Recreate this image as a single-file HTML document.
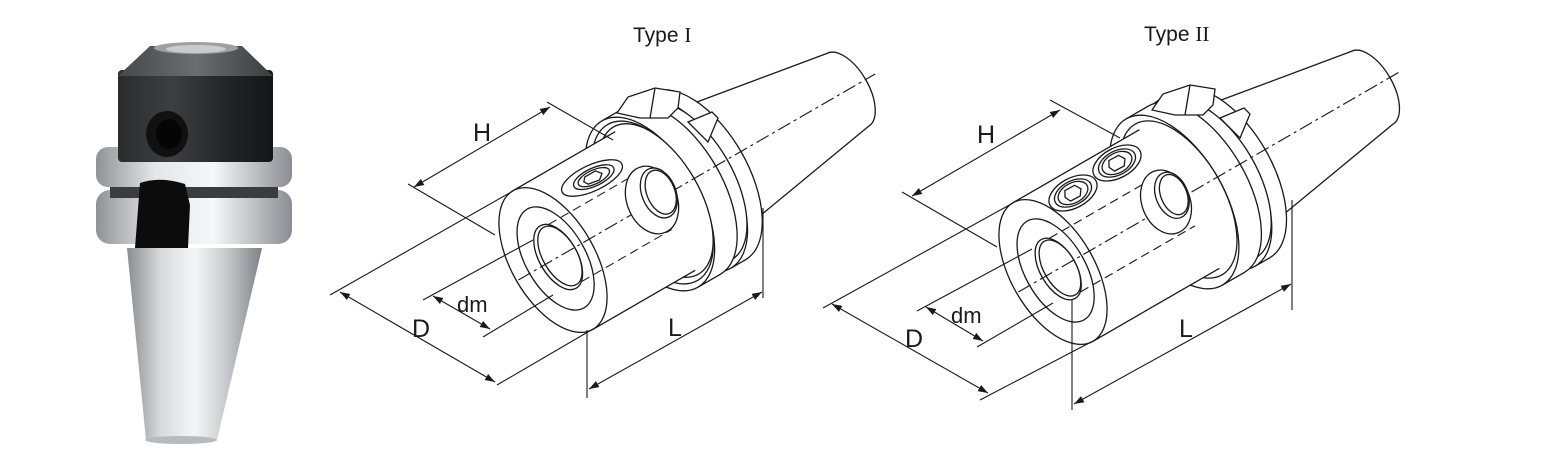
<!DOCTYPE html>
<html><head><meta charset="utf-8"><style>
html,body{margin:0;padding:0;background:#fff;}
svg{display:block;}
.s{fill:#fff;stroke:#1a1a1a;stroke-width:1.3;}
.f{fill:#fff;stroke:none;}
.l{stroke:#1a1a1a;stroke-width:1.3;fill:none;}
.d{stroke:#1a1a1a;stroke-width:1.1;fill:none;}
.dash{stroke:#1a1a1a;stroke-width:1.1;fill:none;stroke-dasharray:9 5;}
.cl{stroke:#1a1a1a;stroke-width:1.1;fill:none;stroke-dasharray:14 4 3 4;}
text{font-family:"Liberation Sans",sans-serif;fill:#1a1a1a;}
</style></head><body>
<svg width="1544" height="454" viewBox="0 0 1544 454" xmlns="http://www.w3.org/2000/svg">
<defs>
<marker id="ar" viewBox="0 0 10 10" refX="10" refY="5" markerWidth="10" markerHeight="10" markerUnits="userSpaceOnUse" orient="auto-start-reverse"><path d="M0,1.5 L10,5 L0,8.5 z" fill="#1a1a1a"/></marker>
<linearGradient id="cone" x1="0" x2="1" y1="0" y2="0">
<stop offset="0" stop-color="#8a8d90"/><stop offset="0.25" stop-color="#d8dadc"/><stop offset="0.5" stop-color="#f4f5f6"/><stop offset="0.75" stop-color="#c4c7ca"/><stop offset="1" stop-color="#7d8185"/></linearGradient>
<linearGradient id="ring" x1="0" x2="1" y1="0" y2="0">
<stop offset="0" stop-color="#8f9296"/><stop offset="0.3" stop-color="#e4e6e8"/><stop offset="0.6" stop-color="#f6f7f8"/><stop offset="1" stop-color="#8a8d91"/></linearGradient>
<linearGradient id="dark" x1="0" x2="1" y1="0" y2="0">
<stop offset="0" stop-color="#2a2c2e"/><stop offset="0.35" stop-color="#3c3f41"/><stop offset="0.7" stop-color="#222425"/><stop offset="1" stop-color="#151617"/></linearGradient>
<linearGradient id="top" x1="0" x2="1" y1="0" y2="0">
<stop offset="0" stop-color="#45484a"/><stop offset="0.5" stop-color="#6a6e70"/><stop offset="1" stop-color="#3a3c3e"/></linearGradient>
</defs>

<!-- PHOTO -->
<g>
<polygon points="127,248 262,248 217,440 146,440" fill="url(#cone)"/>
<ellipse cx="181" cy="440" rx="36" ry="4" fill="#b8bbbe"/>
<rect x="96" y="190" width="196" height="54" rx="14" fill="url(#ring)"/>
<rect x="110" y="184" width="168" height="14" fill="#3a3c3e"/>
<rect x="96" y="147" width="196" height="40" rx="12" fill="url(#ring)"/>
<rect x="118" y="70" width="155" height="92" rx="4" fill="url(#dark)"/>
<polygon points="150,46 242,46 273,76 118,76" fill="url(#top)"/>
<ellipse cx="196" cy="48" rx="42" ry="6" fill="#9da1a4"/>
<ellipse cx="196" cy="49" rx="30" ry="4" fill="#c9cbcd"/>
<ellipse cx="167" cy="134" rx="21" ry="23" fill="#111"/>
<ellipse cx="169" cy="134" rx="13" ry="15" fill="#050505"/>
<path d="M140,183 Q160,176 185,184 L190,205 L188,248 L135,248 Z" fill="#0c0c0c"/>
</g>

<!-- TYPE I -->
<text x="633" y="42" font-size="21">Type <tspan font-family="Liberation Serif,serif">I</tspan></text>
<g transform="translate(553,260) rotate(-30)">
  <ellipse class="s" cx="340" cy="0" rx="21" ry="42"/>
  <polygon class="f" points="185,-68 340,-42 340,42 185,68"/>
  <line class="l" x1="185" y1="-68" x2="340" y2="-42"/>
  <line class="l" x1="185" y1="68" x2="340" y2="42"/>
  <ellipse class="s" cx="167" cy="0" rx="50" ry="96"/>
  <rect class="f" x="150" y="-96" width="17" height="192"/>
  <line class="l" x1="150" y1="-96" x2="167" y2="-96"/><line class="l" x1="150" y1="96" x2="167" y2="96"/>
  <ellipse class="s" cx="150" cy="0" rx="50" ry="96"/>
  <ellipse class="s" cx="155" cy="0" rx="46" ry="89"/>
  <rect class="f" x="138" y="-86" width="12" height="172"/>
  <ellipse class="s" cx="138" cy="0" rx="50" ry="96"/>
  <rect class="f" x="112" y="-96" width="26" height="192"/>
  <line class="l" x1="112" y1="-96" x2="138" y2="-96"/><line class="l" x1="112" y1="96" x2="138" y2="96"/>
  <ellipse class="s" cx="112" cy="0" rx="50" ry="96"/>
  <ellipse class="s" cx="115" cy="0" rx="47" ry="90"/>
  <ellipse class="s" cx="119" cy="0" rx="44" ry="85"/>
  <rect class="f" x="0" y="-80" width="118" height="160"/>
  <line class="l" x1="0" y1="-80" x2="118" y2="-80"/><line class="l" x1="0" y1="80" x2="118" y2="80"/>
  <ellipse class="s" cx="0" cy="0" rx="42" ry="80"/>
  <ellipse class="s" cx="3" cy="0" rx="30" ry="57"/>
  <ellipse class="s" cx="6" cy="0" rx="19" ry="36"/>
  <ellipse class="s" cx="8" cy="0" rx="17" ry="33"/>
  <line class="dash" x1="14" y1="-33" x2="118" y2="-33"/>
  <line class="dash" x1="14" y1="33" x2="118" y2="33"/>
  <line class="cl" x1="-40" y1="0" x2="372" y2="0"/>
</g>
<polygon class="s" points="617,113 628,97 655,88 680,92 678,108 668,118 640,118"/>
<line class="l" x1="655" y1="88" x2="650" y2="118"/>
<polygon class="s" points="688,122 712,112 718,118 708,142"/>
<g transform="translate(592,178) rotate(-25)">
  <ellipse class="s" cx="0" cy="0" rx="33" ry="13"/>
  <ellipse class="s" cx="2" cy="0" rx="22" ry="9"/>
  <ellipse class="s" cx="2" cy="0" rx="17" ry="7"/>
  <polygon class="l" points="-6,-4 6,-5 11,0 6,5 -6,4 -9,0"/>
</g>
<g transform="translate(652,200) rotate(-22)">
  <ellipse class="s" cx="0" cy="0" rx="25" ry="35"/>
  <ellipse class="s" cx="9" cy="-4" rx="17" ry="26"/>
  <ellipse class="l" cx="11" cy="-4" rx="14" ry="23"/>
</g>
<!-- dims I -->
<line class="d" x1="330" y1="295" x2="513" y2="191"/>
<line class="d" x1="497" y1="385" x2="593" y2="329"/>
<line class="d" x1="340" y1="292" x2="495" y2="382" marker-start="url(#ar)" marker-end="url(#ar)"/>
<line class="d" x1="423" y1="300" x2="533" y2="240"/>
<line class="d" x1="483" y1="337" x2="553" y2="295"/>
<line class="d" x1="433" y1="296" x2="490" y2="329" marker-start="url(#ar)" marker-end="url(#ar)"/>
<line class="d" x1="547" y1="102" x2="613" y2="140"/>
<line class="d" x1="408" y1="184" x2="495" y2="235"/>
<line class="d" x1="414" y1="187" x2="550" y2="107" marker-start="url(#ar)" marker-end="url(#ar)"/>
<line class="d" x1="587" y1="330" x2="587" y2="398"/>
<line class="d" x1="763" y1="208" x2="763" y2="298"/>
<line class="d" x1="589" y1="389" x2="762" y2="292" marker-start="url(#ar)" marker-end="url(#ar)"/>
<text x="473" y="141" font-size="25">H</text>
<text x="412" y="337" font-size="25">D</text>
<text x="457" y="312" font-size="22">dm</text>
<text x="668" y="336" font-size="25">L</text>

<!-- TYPE II -->
<text x="1144" y="41" font-size="21">Type <tspan font-family="Liberation Serif,serif">II</tspan></text>
<g transform="translate(1053,272) rotate(-30)">
 <g transform="translate(28,0)">
  <ellipse class="s" cx="340" cy="0" rx="21" ry="42"/>
  <polygon class="f" points="185,-68 340,-42 340,42 185,68"/>
  <line class="l" x1="185" y1="-68" x2="340" y2="-42"/>
  <line class="l" x1="185" y1="68" x2="340" y2="42"/>
  <ellipse class="s" cx="167" cy="0" rx="50" ry="96"/>
  <rect class="f" x="150" y="-96" width="17" height="192"/>
  <line class="l" x1="150" y1="-96" x2="167" y2="-96"/><line class="l" x1="150" y1="96" x2="167" y2="96"/>
  <ellipse class="s" cx="150" cy="0" rx="50" ry="96"/>
  <ellipse class="s" cx="155" cy="0" rx="46" ry="89"/>
  <rect class="f" x="138" y="-86" width="12" height="172"/>
  <ellipse class="s" cx="138" cy="0" rx="50" ry="96"/>
  <rect class="f" x="112" y="-96" width="26" height="192"/>
  <line class="l" x1="112" y1="-96" x2="138" y2="-96"/><line class="l" x1="112" y1="96" x2="138" y2="96"/>
  <ellipse class="s" cx="112" cy="0" rx="50" ry="96"/>
  <ellipse class="s" cx="117" cy="0" rx="45" ry="87"/>
 </g>
  <rect class="f" x="0" y="-80" width="146" height="160"/>
  <line class="l" x1="0" y1="-80" x2="146" y2="-80"/><line class="l" x1="0" y1="80" x2="146" y2="80"/>
  <ellipse class="s" cx="0" cy="0" rx="42" ry="80"/>
  <ellipse class="s" cx="3" cy="0" rx="30" ry="57"/>
  <ellipse class="s" cx="6" cy="0" rx="18" ry="34"/>
  <ellipse class="s" cx="8" cy="0" rx="16" ry="31"/>
  <line class="dash" x1="14" y1="-31" x2="146" y2="-31"/>
  <line class="dash" x1="14" y1="31" x2="146" y2="31"/>
  <line class="cl" x1="-40" y1="0" x2="400" y2="0"/>
</g>
<polygon class="s" points="1152,110 1163,94 1190,85 1215,89 1213,105 1203,115 1175,115"/>
<line class="l" x1="1190" y1="85" x2="1185" y2="115"/>
<polygon class="s" points="1220,118 1244,108 1250,114 1240,138"/>
<g transform="translate(1073,193) rotate(-28)">
  <ellipse class="s" cx="0" cy="0" rx="26" ry="15"/>
  <ellipse class="s" cx="0" cy="0" rx="20" ry="12"/>
  <ellipse class="s" cx="0" cy="0" rx="16" ry="10"/>
  <polygon class="l" points="-6,-6 5,-6 9,0 5,6 -6,6 -9,0"/>
</g>
<g transform="translate(1117,163) rotate(-28)">
  <ellipse class="s" cx="0" cy="0" rx="26" ry="15"/>
  <ellipse class="s" cx="0" cy="0" rx="20" ry="12"/>
  <ellipse class="s" cx="0" cy="0" rx="16" ry="10"/>
  <polygon class="l" points="-6,-6 5,-6 9,0 5,6 -6,6 -9,0"/>
</g>
<g transform="translate(1166,202) rotate(-22)">
  <ellipse class="s" cx="0" cy="0" rx="24" ry="33"/>
  <ellipse class="s" cx="8" cy="-4" rx="16" ry="24"/>
  <ellipse class="l" cx="10" cy="-4" rx="13" ry="21"/>
</g>
<!-- dims II -->
<line class="d" x1="823" y1="308" x2="1013" y2="203"/>
<line class="d" x1="980" y1="400" x2="1093" y2="341"/>
<line class="d" x1="832" y1="304" x2="988" y2="393" marker-start="url(#ar)" marker-end="url(#ar)"/>
<line class="d" x1="917" y1="311" x2="1032" y2="249"/>
<line class="d" x1="977" y1="347" x2="1053" y2="303"/>
<line class="d" x1="926" y1="307" x2="983" y2="341" marker-start="url(#ar)" marker-end="url(#ar)"/>
<line class="d" x1="1050" y1="100" x2="1120" y2="138"/>
<line class="d" x1="902" y1="192" x2="997" y2="247"/>
<line class="d" x1="912" y1="196" x2="1060" y2="110" marker-start="url(#ar)" marker-end="url(#ar)"/>
<line class="d" x1="1072" y1="300" x2="1072" y2="410"/>
<line class="d" x1="1292" y1="200" x2="1292" y2="310"/>
<line class="d" x1="1074" y1="404" x2="1291" y2="284" marker-start="url(#ar)" marker-end="url(#ar)"/>
<text x="977" y="143" font-size="25">H</text>
<text x="905" y="347" font-size="25">D</text>
<text x="951" y="323" font-size="22">dm</text>
<text x="1179" y="337" font-size="25">L</text>
</svg>
</body></html>
